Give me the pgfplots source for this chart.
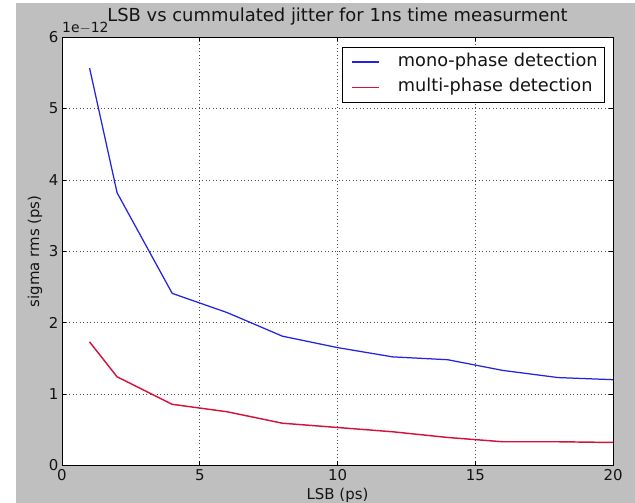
\documentclass[border=0pt]{standalone}
\usepackage{fontspec}
\setmainfont{DejaVu Sans}
\usepackage{pgfplots}
\pgfplotsset{compat=1.18}
\definecolor{figgray}{RGB}{191,191,191}
\definecolor{mplblue}{RGB}{35,35,225}
\definecolor{mplred}{RGB}{210,20,60}
\definecolor{txt}{RGB}{20,20,20}
\newcommand{\fs}{\fontsize{15}{18}\selectfont}
\begin{document}
\begin{tikzpicture}[x=1bp,y=1bp]
\useasboundingbox (0,0) rectangle (635,503);
\fill[white] (0,0) rectangle (635,503);
\fill[figgray] (16,0) rectangle (635,500);
\begin{axis}[
  name=ax,
  at={(62bp,37.7bp)}, anchor=south west,
  scale only axis, width=551bp, height=428bp,
  xmin=0, xmax=20, ymin=0, ymax=6,
  xtick={0,5,10,15,20}, ytick={0,1,2,3,4,5,6},
  axis background/.style={fill=white},
  axis line style={black, line width=0.9bp},
  grid=major,
  major grid style={black!70, line width=0.6bp, dash pattern=on 1bp off 2.5bp},
  tick style={black, line width=0.6bp},
  major tick length=4bp,
  tick align=inside,
  /pgf/number format/assume math mode=true,
  tick label style={font=\fs, text=txt},
  xticklabel style={yshift=-1bp},
  xlabel={LSB (ps)}, ylabel={sigma rms (ps)},
  label style={font=\fs, text=txt},
  title={LSB vs cummulated jitter for 1ns time measurment},
  title style={font=\fontsize{18}{21}\selectfont, text=txt, at={(0.5,1)}, anchor=base, yshift=9.5bp},
  legend cell align=left,
  legend style={at={(0.9855,0.978)}, anchor=north east, draw=black, fill=white,
    font=\fontsize{17.8}{21}\selectfont, text=txt, line width=0.6bp,
    inner xsep=7bp, inner ysep=6bp, row sep=7.3bp, column sep=8bp,
    nodes={inner sep=0pt, text height=13.5bp, text depth=4.5bp}},
  legend image code/.code={\path (-2bp,0bp) (37bp,0bp); \draw[#1] (0bp,0bp) -- (27bp,0bp);},
]
\addplot[mplblue, line width=1.25bp] coordinates {
  (1,5.57) (2,3.82) (4,2.41) (6,2.14) (8,1.81) (10,1.65)
  (12,1.52) (14,1.48) (16,1.33) (18,1.23) (20,1.20)
};
\addlegendentry{mono-phase detection}
\addplot[mplred, line width=1.45bp] coordinates {
  (1,1.73) (2,1.24) (4,0.855) (6,0.75) (8,0.59) (10,0.53)
  (12,0.47) (14,0.39) (16,0.33) (18,0.33) (20,0.32)
};
\addlegendentry{multi-phase detection}
\end{axis}
\node[anchor=base west, font=\fontsize{14}{17}\selectfont, text=txt, inner sep=0pt] at ([yshift=5bp]ax.north west) {1e\(-\)12};
\end{tikzpicture}
\end{document}
